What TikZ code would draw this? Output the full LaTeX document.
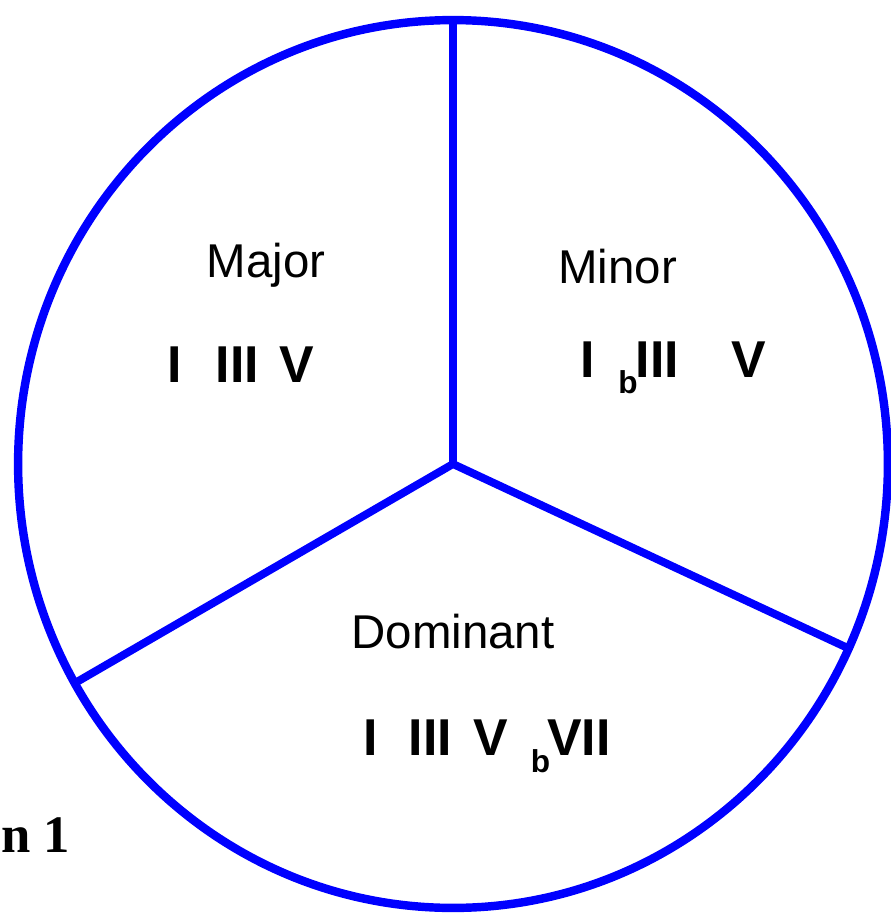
\documentclass[tikz,border=0pt]{standalone}
\usepackage{fontspec}
\setmainfont{Liberation Sans}
\newfontfamily\capfont{Liberation Serif}
\usetikzlibrary{positioning}

\begin{document}
\begin{tikzpicture}[x=0.02cm,y=-0.02cm,every node/.style={inner sep=0pt,anchor=base},
  rim/.style={draw=blue,line width=4.8pt},
  spoke/.style={draw=blue,line width=4.5pt,line join=round},
  lbl/.style={font=\fontsize{27}{30}\selectfont},
  deg/.style={font=\fontsize{29.5}{32}\selectfont\bfseries},
  flat/.style={font=\fontsize{18}{20}\selectfont\bfseries}]
\useasboundingbox (0,0) rectangle (891,915);
% wheel
\coordinate (o) at (453,464);\coordinate (top) at (453,20);\coordinate (ll) at (75,683);\coordinate (lr) at (852,650);
\draw[rim] (o) ellipse [x radius=8.7cm,y radius=8.88cm];
\draw[spoke] (top)--(o)--(ll) (o)--(lr);
% sectors
\node[lbl](major) at (266,277){Major};
\node[lbl](minor) at (617.5,283){Minor};
\node[lbl](dom) at (453,648){Dominant};
\foreach \t/\x [count=\i] in {I/175,III/237.5,V/296.5} \node[deg](maj\i) at (\x,382){\t};
\foreach \t/\x [count=\i] in {I/587.5,III/657.5,V/749} \node[deg](min\i) at (\x,377){\t};
\node[flat](minb) at (628,393){b};
\foreach \t/\x [count=\i] in {I/371,III/430.5,V/491,VII/579} \node[deg](dom\i) at (\x,755){\t};
\node[flat](domb) at (540.5,772){b};
% caption
\node[font=\capfont\fontsize{30}{33}\selectfont\bfseries,anchor=base west](cap) at (1,852){n 1};
\end{tikzpicture}
\end{document}
